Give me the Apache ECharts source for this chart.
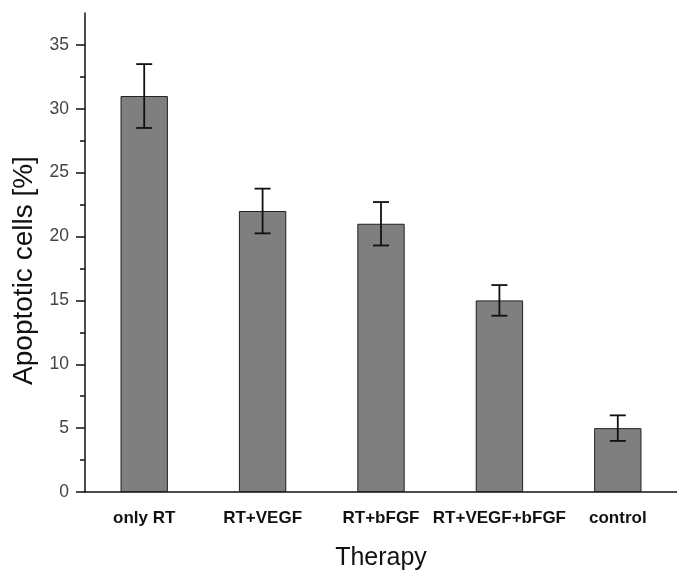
<!DOCTYPE html>
<html>
<head>
<meta charset="utf-8">
<script src="https://cdn.jsdelivr.net/npm/echarts@6/dist/echarts.min.js"></script>
<style>
html,body{margin:0;padding:0;background:#fff;}
#chart{width:677px;height:573px;}
</style>
</head>
<body>
<div id="chart"></div>
<script>
const categories = ['only RT', 'RT+VEGF', 'RT+bFGF', 'RT+VEGF+bFGF', 'control'];
const values = [31, 22, 21, 15, 5];
const errors = [2.5, 1.75, 1.7, 1.2, 1.0];
const yMajorTicks = [0, 5, 10, 15, 20, 25, 30, 35];
const yMinorTicks = [2.5, 7.5, 12.5, 17.5, 22.5, 27.5, 32.5];

const FONT = '"Liberation Sans", Arial, sans-serif';
const chart = echarts.init(document.getElementById('chart'), null, {renderer: 'canvas'});

const errData = values.map((v, i) => [i, v - errors[i], v + errors[i]]);

chart.setOption({
  animation: false,
  backgroundColor: '#fff',
  grid: {left: 85, right: 0, top: 13, bottom: 81, containLabel: false, outerBoundsMode: 'none'},
  xAxis: [{
    type: 'category',
    data: categories,
    name: 'Therapy',
    nameLocation: 'middle',
    nameGap: 54,
    nameTextStyle: {fontFamily: FONT, fontSize: 25, color: '#111'},
    axisLine: {lineStyle: {color: '#111', width: 1.5}},
    axisTick: {alignWithLabel: true, length: 10, lineStyle: {color: '#111', width: 1.5}},
    axisLabel: {fontFamily: FONT, fontSize: 17, fontWeight: 'bold', color: '#111', margin: 18, interval: 0},
    splitLine: {show: false}
  }, {
    type: 'category',
    data: categories,
    position: 'bottom',
    axisLine: {show: false},
    axisTick: {alignWithLabel: false, length: 5, lineStyle: {color: '#111', width: 1.5}},
    axisLabel: {show: false},
    splitLine: {show: false}
  }],
  yAxis: [{
    type: 'value',
    min: 0,
    max: 37.5,
    interval: 5,
    name: 'Apoptotic cells [%]',
    nameLocation: 'middle',
    nameGap: 47,
    nameTextStyle: {fontFamily: FONT, fontSize: 28, color: '#111', padding: [0, 36, 0, 0]},
    axisLine: {show: true, lineStyle: {color: '#111', width: 1.5}},
    axisTick: {show: true, length: 9, customValues: yMajorTicks, lineStyle: {color: '#111', width: 1.5}},
    axisLabel: {fontFamily: FONT, fontSize: 17.5, color: '#444', margin: 16, customValues: yMajorTicks},
    splitLine: {show: false}
  }, {
    type: 'value',
    min: 0,
    max: 37.5,
    interval: 2.5,
    position: 'left',
    axisLine: {show: false},
    axisTick: {show: true, length: 5, customValues: yMinorTicks, lineStyle: {color: '#111', width: 1.5}},
    axisLabel: {show: false},
    splitLine: {show: false}
  }],
  series: [{
    type: 'bar',
    xAxisIndex: 0,
    yAxisIndex: 0,
    data: values,
    barWidth: '40%',
    itemStyle: {color: '#7f7f7f', borderColor: '#222', borderWidth: 1}
  }, {
    type: 'custom',
    xAxisIndex: 0,
    yAxisIndex: 0,
    data: errData,
    z: 10,
    renderItem: function (params, api) {
      const x = api.value(0);
      const lo = api.coord([x, api.value(1)]);
      const hi = api.coord([x, api.value(2)]);
      const hw = 8;
      const style = {stroke: '#111', lineWidth: 1.8, fill: null};
      return {
        type: 'group',
        children: [
          {type: 'line', shape: {x1: hi[0], y1: hi[1], x2: lo[0], y2: lo[1]}, style: style},
          {type: 'line', shape: {x1: hi[0] - hw, y1: hi[1], x2: hi[0] + hw, y2: hi[1]}, style: style},
          {type: 'line', shape: {x1: lo[0] - hw, y1: lo[1], x2: lo[0] + hw, y2: lo[1]}, style: style}
        ]
      };
    }
  }]
});
</script>
</body>
</html>
